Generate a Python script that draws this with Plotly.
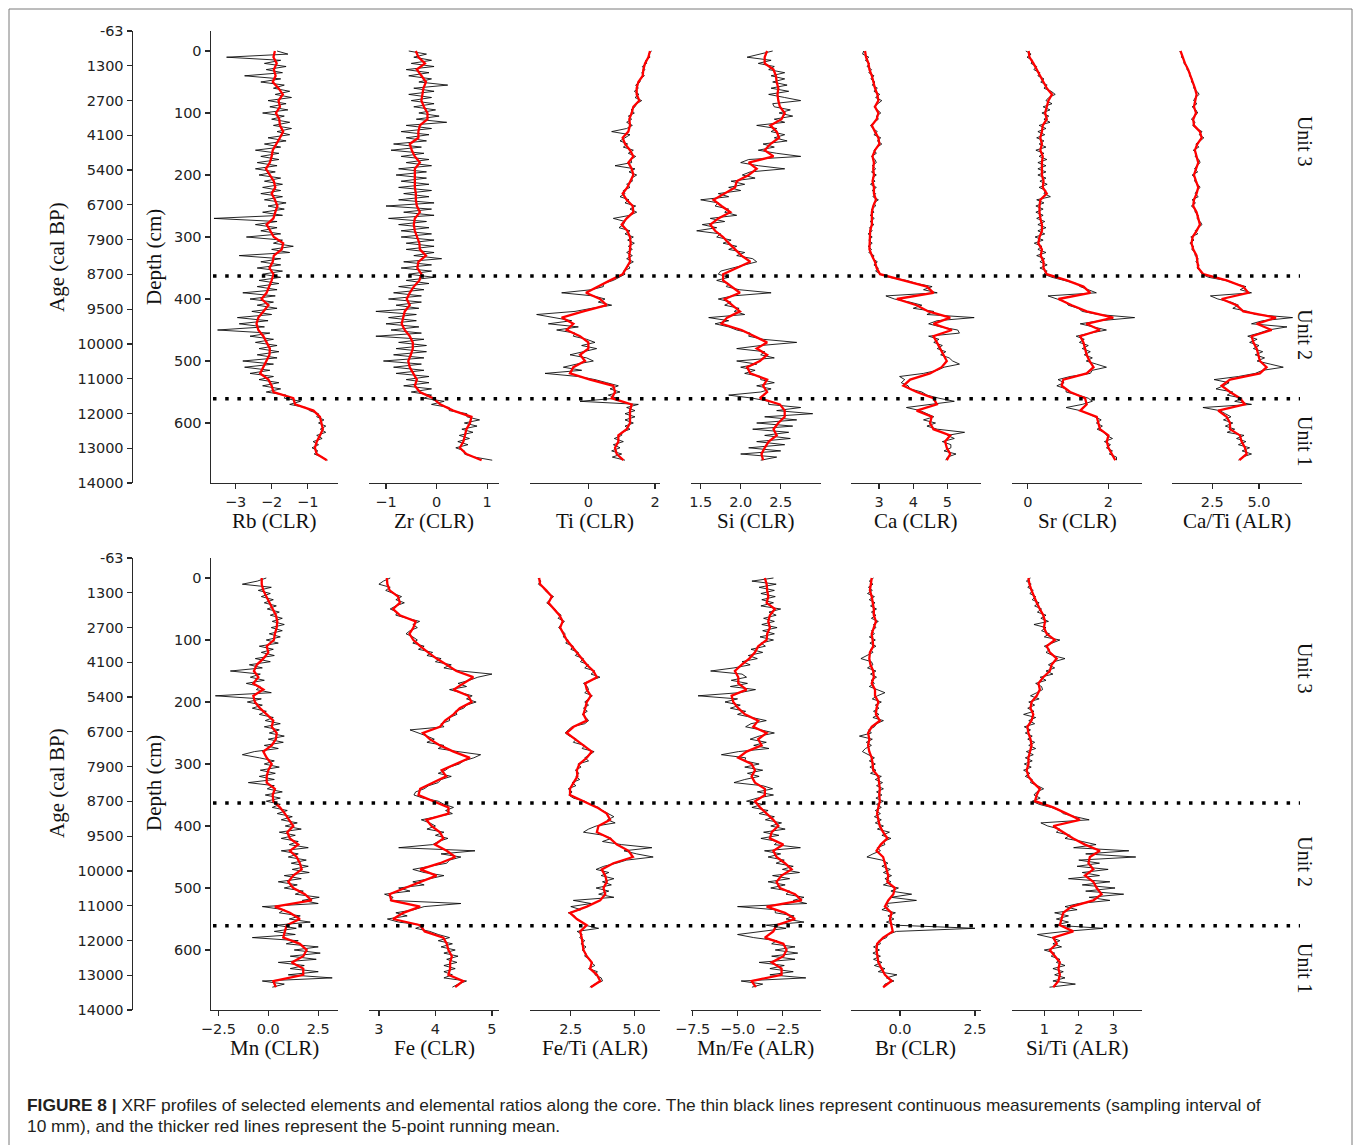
import plotly.graph_objects as go

W, H = 1355, 1145

# ------------------------------------------------------------------ data
DEPTH_RAW = list(range(0, 661, 5))    # cm (black, continuous measurements as read)
DEPTH_MEAN = list(range(0, 661, 10))  # cm (red, running mean as read)

RB_RAW = [
    -1.85, -1.55, -3.25, -1.75, -2.2, -1.6, -2.15, -1.7, -2.75, -1.75,
    -2.3, -1.65, -1.95, -1.5, -1.9, -1.45, -2.1, -1.6, -2.05, -1.55,
    -2.25, -1.65, -2.0, -1.5, -1.95, -1.45, -1.85, -1.5, -2.1, -1.6,
    -2.2, -1.75, -2.45, -1.8, -2.3, -1.8, -2.4, -1.85, -2.45, -1.9,
    -2.35, -1.75, -2.2, -1.7, -2.25, -1.75, -2.3, -1.7, -2.2, -1.6,
    -2.1, -1.65, -2.25, -1.7, -3.6, -1.85, -2.45, -1.85, -2.3, -1.75,
    -2.7, -1.7, -1.95, -1.4, -2.0, -1.5, -2.9, -1.75, -2.3, -1.75,
    -2.4, -1.7, -2.25, -1.75, -2.35, -1.8, -2.4, -1.85, -2.8, -1.9,
    -2.6, -1.95, -2.4, -1.85, -2.55, -2.0, -2.95, -2.1, -2.9, -2.2,
    -3.5, -2.05, -2.6, -1.95, -2.45, -1.85, -2.35, -1.8, -2.4, -1.85,
    -2.8, -1.95, -2.75, -2.05, -2.6, -1.95, -2.35, -1.8, -2.25, -1.75,
    -2.15, -1.6, -1.65, -1.2, -1.5, -1.05, -0.95, -0.7, -0.75, -0.55,
    -0.7, -0.5, -0.65, -0.5, -0.75, -0.6, -0.85, -0.7, -0.88, -0.72,
    -0.82, -0.6, -0.45]
RB_MEAN = [
    -1.91, -1.95, -1.86, -1.94, -1.89, -1.97, -1.81, -1.69, -1.81, -1.77,
    -1.88, -1.79, -1.77, -1.68, -1.77, -1.86, -1.97, -2.0, -2.05, -2.16,
    -2.06, -1.94, -1.90, -2.0, -1.91, -1.84, -1.90, -1.95, -2.14, -2.03,
    -1.94, -1.68, -1.72, -1.94, -1.97, -2.06, -1.95, -2.0, -2.06, -2.14,
    -2.28, -2.09, -2.23, -2.37, -2.42, -2.37, -2.23, -2.14, -2.05, -2.06,
    -2.14, -2.23, -2.32, -2.09, -2.0, -1.95, -1.40, -1.35, -0.84, -0.66,
    -0.61, -0.58, -0.66, -0.75, -0.80, -0.75, -0.47]

ZR_RAW = [
    -0.55, -0.2, -0.45, -0.1, -0.5, -0.05, -0.6, -0.15, -0.55, -0.1,
    -0.35, 0.22, -0.45, -0.05, -0.55, -0.1, -0.5, -0.05, -0.45, -0.02,
    -0.35, 0.05, -0.4, 0.2, -0.6, -0.1, -0.7, -0.15, -0.6, -0.2,
    -0.85, -0.3, -0.9, -0.25, -0.7, -0.15, -0.6, -0.1, -0.75, -0.2,
    -0.8, -0.2, -0.7, -0.15, -0.75, -0.1, -0.65, -0.15, -0.75, -0.05,
    -1.0, -0.1, -0.65, -0.05, -0.95, -0.2, -0.75, -0.15, -0.7, -0.1,
    -0.7, -0.05, -0.6, -0.05, -0.6, -0.05, -0.45, 0.1, -0.65, -0.1,
    -0.7, -0.1, -0.55, -0.05, -0.6, -0.15, -0.75, -0.25, -0.85, -0.3,
    -0.95, -0.3, -0.8, -0.35, -1.2, -0.4, -0.95, -0.4, -1.0, -0.35,
    -0.9, -0.3, -1.2, -0.25, -0.75, -0.2, -0.8, -0.2, -0.85, -0.25,
    -1.05, -0.3, -0.85, -0.25, -0.8, -0.15, -0.6, -0.15, -0.65, -0.1,
    -0.5, -0.1, -0.25, 0.15, -0.1, 0.25, 0.25, 0.6, 0.6, 0.85,
    0.55, 0.8, 0.5, 0.72, 0.45, 0.65, 0.42, 0.62, 0.38, 0.55,
    0.55, 0.75, 1.1]
ZR_MEAN = [
    -0.41, -0.36, -0.23, -0.39, -0.30, -0.21, -0.26, -0.28, -0.30, -0.25,
    -0.18, -0.18, -0.33, -0.36, -0.36, -0.53, -0.49, -0.43, -0.33, -0.43,
    -0.43, -0.43, -0.43, -0.41, -0.41, -0.39, -0.33, -0.43, -0.45, -0.43,
    -0.39, -0.34, -0.33, -0.21, -0.36, -0.38, -0.30, -0.34, -0.45, -0.53,
    -0.59, -0.53, -0.63, -0.66, -0.69, -0.63, -0.53, -0.47, -0.47, -0.51,
    -0.56, -0.53, -0.46, -0.39, -0.43, -0.33, -0.07, 0.07, 0.33, 0.69,
    0.66, 0.59, 0.56, 0.53, 0.46, 0.59, 0.89]

TI_RAW = [
    1.9, 1.8, 1.85, 1.72, 1.75, 1.62, 1.7, 1.6, 1.68, 1.55,
    1.55, 1.42, 1.5, 1.38, 1.52, 1.4, 1.6, 1.45, 1.4, 1.28,
    1.38, 1.2, 1.3, 1.15, 1.32, 1.15, 0.7, 1.25, 1.1, 0.95,
    1.18, 1.05, 1.35, 1.2, 1.42, 1.28, 1.3, 0.8, 1.4, 1.22,
    1.45, 1.3, 1.32, 1.15, 1.25, 1.05, 1.1, 0.95, 1.22, 1.1,
    1.42, 1.25, 1.45, 1.25, 0.75, 1.1, 1.05, 0.92, 1.25, 1.1,
    1.35, 1.18, 1.38, 1.2, 1.32, 1.15, 1.32, 1.15, 1.35, 1.18,
    1.25, 1.05, 1.1, 0.9, 0.75, 0.45, 0.45, 0.1, -0.8, 0.15,
    0.5, 0.3, 0.7, 0.1, -0.4, -1.55, -1.0, -0.5, -1.2, -0.3,
    -0.95, -0.4, -0.45, -0.05, 0.2, -0.2, 0.25, -0.15, -0.55, -0.05,
    0.15, -0.35, -0.75, -0.2, -1.3, -0.3, 0.2, 0.55, 0.9, 0.65,
    0.95, 0.6, 0.85, -0.25, 1.5, 1.15, 1.4, 1.1, 1.4, 1.1,
    1.35, 1.1, 1.25, 1.0, 1.0, 0.78, 1.05, 0.75, 0.95, 0.7,
    1.0, 0.72, 1.1]
TI_MEAN = [
    1.85, 1.80, 1.70, 1.65, 1.63, 1.50, 1.45, 1.45, 1.53, 1.35,
    1.30, 1.23, 1.25, 1.20, 1.03, 1.10, 1.25, 1.35, 1.20, 1.30,
    1.35, 1.25, 1.17, 1.03, 1.15, 1.33, 1.35, 1.15, 1.00, 1.17,
    1.25, 1.27, 1.25, 1.23, 1.25, 1.15, 1.03, 0.65, 0.30, -0.07,
    0.35, 0.55, -0.15, -0.80, -0.45, -0.65, -0.25, 0.0, 0.0, -0.25,
    -0.10, -0.45, -0.55, 0.05, 0.75, 0.80, 0.70, 1.30, 1.25, 1.25,
    1.25, 1.15, 0.90, 0.90, 0.80, 0.85, 1.05]

SI_RAW = [
    2.4, 2.25, 2.08, 2.38, 2.22, 2.42, 2.35, 2.55, 2.38, 2.55,
    2.4, 2.58, 2.38, 2.6, 2.35, 2.55, 2.75, 2.4, 2.42, 2.62,
    2.48, 2.65, 2.42, 2.55, 2.2, 2.45, 2.38, 2.55, 2.42, 2.58,
    2.28, 2.42, 2.22, 2.45, 2.75, 2.1, 2.0, 2.22, 2.55, 2.12,
    2.02, 2.18, 1.88, 2.05, 1.85, 2.0, 1.72, 1.85, 1.5, 1.72,
    1.68, 1.85, 1.8, 1.95, 1.62, 1.8, 1.52, 1.7, 1.45, 1.75,
    1.7, 1.88, 1.78, 1.95, 1.85, 2.05, 1.95, 2.15, 2.2, 2.05,
    1.88, 1.75, 1.72, 1.85, 1.7, 1.85, 1.82, 1.98, 2.38, 1.9,
    1.72, 1.88, 1.8, 1.98, 1.92, 2.05, 1.6, 1.85, 1.68, 1.85,
    1.95, 2.12, 2.1, 2.28, 2.7, 2.25, 1.95, 2.3, 2.25, 2.42,
    1.95, 2.2, 2.0, 2.18, 2.05, 2.25, 2.25, 2.42, 2.2, 2.38,
    2.25, 1.85, 2.15, 2.35, 2.35, 2.75, 2.45, 2.9, 2.3, 2.7,
    2.2, 2.65, 2.15, 2.6, 2.3, 2.62, 2.2, 2.55, 2.1, 2.5,
    2.0, 2.45, 2.25]
SI_MEAN = [
    2.33, 2.30, 2.30, 2.41, 2.44, 2.45, 2.47, 2.46, 2.47, 2.49,
    2.55, 2.51, 2.37, 2.45, 2.48, 2.37, 2.30, 2.41, 2.10, 2.20,
    2.10, 1.95, 1.93, 1.80, 1.66, 1.76, 1.87, 1.72, 1.62, 1.68,
    1.78, 1.85, 1.93, 2.01, 2.12, 1.95, 1.78, 1.78, 1.89, 1.99,
    1.80, 1.89, 1.99, 1.83, 1.76, 2.01, 2.16, 2.33, 2.20, 2.33,
    2.24, 2.08, 2.12, 2.33, 2.28, 2.33, 2.24, 2.49, 2.55, 2.55,
    2.47, 2.41, 2.45, 2.35, 2.30, 2.26, 2.28]

CA_RAW = [
    2.55, 2.52, 2.7, 2.6, 2.72, 2.65, 2.78, 2.7, 2.85, 2.76,
    2.88, 2.8, 2.95, 2.85, 3.02, 2.9, 3.08, 2.95, 2.85, 2.95,
    3.05, 2.92, 2.98, 2.85, 2.75, 2.82, 2.95, 2.85, 3.05, 2.95,
    3.08, 2.95, 2.85, 2.92, 2.78, 2.88, 2.92, 2.8, 2.9, 2.78,
    2.92, 2.8, 2.88, 2.75, 2.92, 2.8, 2.9, 2.82, 2.98, 2.85,
    2.9, 2.78, 2.85, 2.74, 2.86, 2.74, 2.85, 2.72, 2.8, 2.68,
    2.8, 2.7, 2.8, 2.68, 2.78, 2.7, 2.85, 2.82, 2.95, 2.85,
    2.98, 2.9, 3.05, 3.3, 3.8, 4.1, 4.55, 4.3, 4.7, 3.2,
    3.45, 3.9, 4.25, 4.0, 4.6, 4.4, 5.78, 4.7, 4.45, 4.8,
    5.3, 5.35, 4.45, 4.75, 4.6, 4.85, 4.7, 4.95, 4.8, 5.05,
    5.15, 5.35, 4.9, 4.7, 4.3, 3.6, 3.75, 3.65, 3.85, 3.9,
    4.25, 4.4, 4.75, 5.2, 4.5, 3.8, 4.2, 4.4, 4.6, 4.3,
    4.65, 4.4, 4.7, 5.5, 5.0, 5.2, 4.85, 5.1, 5.1, 4.9,
    5.25, 5.0, 4.95]
CA_MEAN = [
    2.59, 2.62, 2.69, 2.72, 2.79, 2.83, 2.88, 2.95, 2.98, 2.88,
    2.98, 2.93, 2.79, 2.88, 2.98, 3.01, 2.88, 2.81, 2.85, 2.83,
    2.85, 2.81, 2.85, 2.85, 2.91, 2.83, 2.79, 2.79, 2.79, 2.74,
    2.74, 2.74, 2.72, 2.79, 2.88, 2.93, 3.03, 3.71, 4.40, 4.59,
    3.52, 4.10, 4.44, 5.08, 4.59, 5.13, 4.59, 4.69, 4.79, 4.88,
    4.98, 4.83, 4.49, 3.91, 3.71, 4.10, 4.59, 4.69, 4.10, 4.54,
    4.49, 4.59, 5.08, 4.93, 4.98, 5.08, 4.98]

SR_RAW = [
    -0.05, 0.08, -0.02, 0.12, 0.08, 0.22, 0.15, 0.3, 0.25, 0.4,
    0.32, 0.48, 0.4, 0.58, 0.68, 0.52, 0.45, 0.6, 0.38, 0.55,
    0.35, 0.52, 0.4, 0.55, 0.28, 0.45, 0.25, 0.42, 0.22, 0.4,
    0.28, 0.45, 0.2, 0.4, 0.28, 0.47, 0.25, 0.45, 0.25, 0.45,
    0.25, 0.45, 0.3, 0.48, 0.28, 0.45, 0.4, 0.56, 0.22, 0.4,
    0.2, 0.38, 0.2, 0.38, 0.22, 0.42, 0.25, 0.45, 0.25, 0.42,
    0.18, 0.38, 0.16, 0.35, 0.25, 0.45, 0.22, 0.42, 0.3, 0.48,
    0.3, 0.48, 0.4, 0.6, 0.9, 1.2, 1.3, 1.5, 1.7, 0.5,
    0.7, 0.95, 1.0, 1.25, 1.35, 1.75, 2.65, 1.8, 1.3, 1.65,
    1.95, 1.55, 1.2, 1.4, 1.28, 1.5, 1.35, 1.55, 1.4, 1.6,
    1.45, 1.7, 1.95, 1.6, 1.55, 1.05, 0.75, 0.9, 0.72, 0.95,
    0.95, 1.25, 1.5, 1.6, 1.35, 0.95, 1.3, 1.5, 1.65, 1.82,
    1.7, 1.85, 1.72, 1.9, 1.95, 2.1, 1.9, 2.05, 1.95, 2.1,
    2.02, 2.2, 2.2]
SR_MEAN = [
    0.02, 0.04, 0.14, 0.22, 0.31, 0.39, 0.47, 0.60, 0.51, 0.47,
    0.43, 0.47, 0.37, 0.35, 0.31, 0.35, 0.31, 0.37, 0.35, 0.35,
    0.35, 0.39, 0.37, 0.47, 0.31, 0.29, 0.29, 0.31, 0.35, 0.35,
    0.29, 0.26, 0.35, 0.32, 0.39, 0.39, 0.47, 0.97, 1.38, 1.55,
    0.76, 1.09, 1.46, 2.12, 1.45, 1.79, 1.30, 1.38, 1.42, 1.46,
    1.53, 1.63, 1.46, 0.88, 0.84, 1.05, 1.42, 1.46, 1.30, 1.71,
    1.75, 1.79, 2.00, 1.96, 2.00, 2.08, 2.17]

CATI_RAW = [
    0.75, 0.88, 0.85, 1.0, 0.98, 1.15, 1.15, 1.3, 1.28, 1.42,
    1.38, 1.55, 1.5, 1.68, 1.8, 1.6, 1.5, 1.68, 1.42, 1.62,
    1.72, 1.55, 1.38, 1.58, 1.45, 1.65, 1.95, 1.8, 2.05, 1.85,
    1.62, 1.78, 1.48, 1.65, 1.58, 1.78, 1.85, 1.68, 1.55, 1.72,
    1.42, 1.6, 1.55, 1.72, 1.85, 1.68, 1.58, 1.75, 1.42, 1.6,
    1.38, 1.58, 1.58, 1.75, 1.68, 1.85, 1.95, 1.75, 1.58, 1.72,
    1.35, 1.52, 1.3, 1.5, 1.4, 1.58, 1.58, 1.75, 1.62, 1.8,
    1.68, 1.85, 1.95, 2.3, 3.2, 3.7, 4.3, 4.0, 4.6, 2.4,
    2.8, 3.5, 3.9, 3.6, 4.4, 4.8, 6.8, 5.2, 4.6, 6.5,
    5.5, 5.0, 4.4, 4.9, 4.5, 5.0, 4.7, 5.2, 4.8, 5.3,
    4.9, 5.6, 6.3, 5.2, 4.8, 3.9, 2.6, 3.4, 3.1, 2.7,
    3.6, 3.3, 4.1, 3.7, 4.6, 2.0, 2.9, 3.2, 3.5, 3.1,
    3.6, 3.2, 3.7, 3.3, 4.2, 3.8, 4.3, 3.9, 4.5, 4.1,
    4.6, 4.1, 3.9]
CATI_MEAN = [
    0.80, 0.91, 1.04, 1.21, 1.34, 1.45, 1.57, 1.66, 1.57, 1.52,
    1.63, 1.48, 1.52, 1.84, 1.93, 1.70, 1.57, 1.66, 1.75, 1.63,
    1.52, 1.63, 1.75, 1.66, 1.52, 1.48, 1.66, 1.75, 1.84, 1.66,
    1.45, 1.39, 1.48, 1.66, 1.70, 1.75, 2.02, 3.27, 4.16, 4.43,
    3.00, 3.80, 4.16, 5.91, 4.88, 5.68, 4.61, 4.70, 4.88, 4.96,
    5.05, 5.41, 5.05, 3.45, 3.00, 3.45, 3.98, 4.25, 2.82, 3.27,
    3.45, 3.45, 3.98, 4.07, 4.25, 4.34, 3.95]

MN_RAW = [
    -0.1, -0.55, -1.3, 0.15, -0.5, 0.1, -0.35, 0.25, -0.2, 0.4,
    -0.05, 0.55, 0.1, 0.7, 0.2, 0.8, 0.15, 0.7, 0.05, 0.6,
    -0.1, 0.5, -0.45, 0.25, -0.35, 0.3, -0.65, 0.1, -0.95, -0.3,
    -1.9, -0.4, -0.9, -0.2, -1.1, -0.4, -0.6, 0.15, -2.65, -0.35,
    -1.05, -0.3, -0.8, -0.1, -0.45, 0.25, -0.15, 0.6, -0.2, 0.55,
    0.05, 0.8, 0.0, 0.75, -0.2, 0.5, -0.7, -1.3, -0.45, 0.3,
    -0.2, 0.55, -0.4, 0.35, -0.45, 0.3, -1.0, 0.3, -0.05, 0.7,
    -0.15, 0.6, -0.1, 0.6, 0.2, 0.95, 0.45, 1.2, 0.65, 1.45,
    0.85, 1.65, 0.55, 1.35, 0.65, 1.5, 1.05, 2.0, 0.65, 1.5,
    1.0, 1.9, 1.15, 2.0, 1.2, 2.05, 0.8, 1.65, 0.5, 1.45,
    0.8, 1.75, 1.35, 2.55, 1.7, 2.5, -0.3, 0.8, 0.55, 1.6,
    1.05, 2.1, 0.4, 1.4, 0.3, 1.35, -0.8, 1.5, 0.9, 2.5,
    1.3, 2.6, 1.1, 2.4, 0.5, 1.8, 1.1, 2.5, 1.0, 3.2,
    -0.3, 0.8, 0.2]
MN_MEAN = [
    -0.33, -0.33, -0.25, -0.08, 0.08, 0.22, 0.38, 0.45, 0.42, 0.33,
    0.28, -0.08, 0.0, -0.25, -0.58, -0.72, -0.5, -0.75, -0.25, -0.75,
    -0.67, -0.42, -0.08, 0.25, 0.17, 0.42, 0.38, 0.17, -0.25, -0.08,
    0.17, 0.0, -0.08, -0.08, 0.33, 0.22, 0.25, 0.58, 0.83, 1.05,
    1.25, 0.95, 1.08, 1.50, 1.08, 1.42, 1.58, 1.67, 1.25, 1.0,
    1.25, 1.83, 2.17, 0.33, 1.08, 1.58, 0.92, 0.83, 0.75, 1.58,
    1.92, 1.75, 1.17, 1.75, 1.75, 0.25, 0.38]

FE_RAW = [
    3.2, 3.08, 3.0, 3.2, 3.12, 3.28, 3.4, 3.3, 3.45, 3.3,
    3.2, 3.32, 3.3, 3.5, 3.72, 3.6, 3.68, 3.55, 3.48, 3.6,
    3.68, 3.6, 3.8, 3.7, 3.95, 3.85, 4.1, 4.0, 4.28, 4.15,
    4.45, 5.0, 4.75, 4.6, 4.4, 4.55, 4.25, 4.45, 4.65, 4.55,
    4.72, 4.55, 4.5, 4.35, 4.38, 4.25, 4.25, 4.1, 4.15, 3.55,
    3.72, 3.85, 3.98, 3.85, 4.15, 4.05, 4.4, 4.8, 4.68, 4.5,
    4.42, 4.25, 4.18, 4.05, 4.28, 4.1, 4.05, 3.88, 3.8, 3.65,
    3.62, 3.78, 4.05, 4.15, 4.32, 4.18, 4.3, 4.05, 3.75, 3.9,
    4.0, 3.85, 4.15, 4.0, 4.22, 4.05, 3.95, 3.35, 4.7, 4.1,
    4.45, 4.25, 4.2, 3.9, 3.6, 3.8, 4.15, 3.9, 3.6, 3.8,
    3.35, 3.55, 3.1, 3.25, 3.2, 4.45, 3.8, 3.62, 3.3, 3.5,
    3.15, 3.35, 3.8, 3.65, 3.9, 4.05, 4.25, 4.05, 4.3, 4.1,
    4.35, 4.15, 4.4, 4.2, 4.38, 4.15, 4.35, 4.15, 4.3, 4.15,
    4.55, 4.4, 4.3]
FE_MEAN = [
    3.14, 3.15, 3.19, 3.34, 3.37, 3.25, 3.37, 3.65, 3.61, 3.54,
    3.61, 3.73, 3.87, 4.02, 4.20, 4.37, 4.67, 4.49, 4.32, 4.58,
    4.64, 4.43, 4.32, 4.17, 4.08, 3.78, 3.90, 4.08, 4.32, 4.61,
    4.37, 4.11, 4.19, 3.96, 3.73, 3.70, 3.96, 4.23, 4.23, 3.84,
    3.93, 4.08, 4.14, 3.99, 4.20, 4.35, 4.08, 3.73, 4.02, 3.73,
    3.46, 3.19, 3.22, 3.73, 3.43, 3.25, 3.73, 3.81, 4.14, 4.20,
    4.23, 4.29, 4.26, 4.26, 4.23, 4.49, 4.35]

FETI_RAW = [
    1.2, 1.32, 1.22, 1.4, 1.48, 1.62, 1.82, 1.7, 1.55, 1.7,
    1.88, 1.95, 2.12, 2.0, 2.25, 2.12, 2.02, 2.15, 2.28, 2.2,
    2.4, 2.3, 2.6, 2.5, 2.8, 2.68, 3.0, 2.88, 3.2, 3.05,
    3.45, 3.3, 3.65, 3.3, 3.0, 3.15, 3.2, 3.05, 3.35, 3.2,
    3.05, 3.2, 3.0, 3.15, 2.95, 3.1, 3.2, 3.05, 2.55, 2.4,
    2.28, 2.45, 2.72, 2.6, 3.05, 2.95, 3.42, 3.25, 3.05, 3.2,
    2.78, 2.9, 2.68, 2.82, 2.7, 2.85, 2.55, 2.7, 2.4, 2.55,
    2.42, 2.6, 3.05, 3.25, 3.6, 3.75, 4.0, 4.2, 3.95, 4.25,
    3.5, 3.2, 3.0, 3.8, 4.1, 3.75, 4.5, 5.7, 4.6, 5.1,
    5.75, 4.7, 4.3, 3.8, 3.5, 4.0, 3.7, 4.2, 3.75, 4.1,
    3.5, 4.0, 3.6, 4.2, 2.6, 3.3, 2.5, 2.9, 2.4, 2.65,
    2.7, 2.95, 3.05, 3.6, 2.75, 2.95, 2.85, 3.05, 2.9, 3.1,
    2.95, 3.1, 3.05, 3.25, 3.3, 3.45, 3.2, 3.55, 3.45, 3.7,
    3.75, 3.45, 3.25]
FETI_MEAN = [
    1.25, 1.29, 1.53, 1.75, 1.62, 1.82, 2.05, 2.18, 2.08, 2.21,
    2.34, 2.54, 2.74, 2.93, 3.13, 3.39, 3.53, 3.07, 3.13, 3.29,
    3.13, 3.07, 3.00, 3.13, 2.61, 2.34, 2.67, 3.00, 3.33, 3.13,
    2.84, 2.74, 2.76, 2.61, 2.47, 2.47, 3.00, 3.53, 3.92, 4.05,
    3.59, 3.53, 4.05, 4.32, 4.78, 4.95, 4.18, 3.72, 3.86, 3.92,
    3.79, 3.86, 3.66, 3.13, 2.47, 2.74, 3.13, 2.87, 2.93, 2.97,
    3.00, 3.13, 3.33, 3.26, 3.53, 3.66, 3.29]

MNFE_RAW = [
    -3.0, -4.2, -2.85, -3.8, -2.95, -3.7, -2.9, -3.65, -3.0, -3.7,
    -2.6, -3.25, -2.85, -3.55, -2.95, -3.65, -2.8, -3.6, -2.95, -3.75,
    -3.0, -3.7, -3.45, -4.25, -3.6, -4.4, -3.9, -4.75, -4.3, -5.2,
    -6.5, -4.75, -4.5, -5.35, -4.45, -5.4, -4.0, -4.9, -7.2, -5.0,
    -5.7, -4.85, -5.4, -4.55, -5.0, -4.15, -3.4, -4.25, -4.55, -3.7,
    -2.95, -3.8, -4.3, -3.4, -4.1, -3.25, -4.95, -5.9, -4.55, -4.6,
    -3.8, -4.6, -3.6, -4.45, -3.8, -4.6, -5.2, -3.6, -3.05, -3.9,
    -3.0, -3.9, -4.5, -3.6, -4.2, -3.3, -3.8, -2.95, -3.45, -2.55,
    -3.15, -2.35, -3.55, -2.7, -3.7, -2.75, -2.95, -1.5, -3.5, -2.6,
    -3.3, -2.4, -2.85, -1.9, -2.5, -1.55, -3.05, -2.1, -3.3, -2.35,
    -3.15, -2.1, -2.3, -1.3, -1.9, -1.15, -5.0, -2.9, -2.9, -1.85,
    -2.3, -1.3, -3.4, -2.3, -3.6, -5.0, -4.1, -2.8, -3.1, -1.8,
    -2.9, -1.65, -3.1, -1.8, -3.8, -2.4, -3.2, -1.9, -3.2, -1.2,
    -4.8, -3.6, -4.2]
MNFE_MEAN = [
    -3.48, -3.38, -3.35, -3.29, -3.38, -2.92, -3.20, -3.29, -3.20, -3.35,
    -3.38, -3.85, -4.03, -4.35, -4.78, -5.15, -4.96, -4.96, -4.50, -5.33,
    -5.24, -4.96, -4.59, -3.85, -4.13, -3.38, -3.85, -3.66, -4.50, -4.96,
    -4.22, -4.03, -4.22, -4.03, -3.48, -3.48, -4.03, -3.75, -3.38, -3.01,
    -2.73, -3.10, -3.20, -2.45, -3.01, -2.83, -2.36, -1.99, -2.55, -2.83,
    -2.64, -1.80, -1.43, -3.38, -2.36, -1.80, -2.83, -3.01, -3.48, -2.45,
    -2.27, -2.45, -3.10, -2.55, -2.55, -4.22, -3.98]

BR_RAW = [
    -0.88, -1.02, -0.9, -1.05, -0.92, -1.08, -0.85, -1.02, -0.83, -0.98,
    -0.78, -0.95, -0.8, -0.95, -0.72, -0.88, -0.8, -0.95, -0.85, -1.02,
    -0.82, -1.0, -0.8, -0.98, -0.9, -1.1, -1.3, -0.95, -0.9, -1.08,
    -0.8, -0.98, -0.78, -0.96, -0.85, -1.02, -0.75, -0.5, -0.75, -0.92,
    -0.62, -0.82, -0.7, -0.88, -0.7, -0.9, -0.55, -0.78, -0.85, -1.05,
    -0.95, -1.35, -0.92, -1.12, -0.95, -1.15, -1.25, -1.05, -0.85, -1.02,
    -0.82, -1.0, -0.8, -0.98, -0.62, -0.82, -0.58, -0.78, -0.55, -0.78,
    -0.6, -0.8, -0.55, -0.78, -0.62, -0.82, -0.65, -0.85, -0.62, -0.82,
    -0.55, -0.75, -0.35, -0.6, -0.3, -0.55, -0.5, -0.75, -0.65, -0.9,
    -1.1, -0.6, -0.4, -0.6, -0.32, -0.55, -0.28, -0.5, -0.3, -0.55,
    -0.05, -0.3, 0.39, -0.3, 0.55, -0.45, -0.38, -0.6, -0.15, -0.4,
    -0.2, -0.45, -0.15, 2.5, -0.12, -0.4, -0.45, -0.7, -0.65, -0.88,
    -0.68, -0.9, -0.65, -0.88, -0.6, -0.85, -0.5, -0.72, -0.1, -0.45,
    -0.2, -0.5, -0.55]
BR_MEAN = [
    -0.94, -0.97, -1.0, -0.94, -0.91, -0.87, -0.87, -0.80, -0.87, -0.94,
    -0.91, -0.89, -1.0, -1.02, -0.98, -0.89, -0.87, -0.94, -0.83, -0.83,
    -0.72, -0.78, -0.80, -0.67, -0.94, -1.06, -1.02, -1.06, -1.02, -0.94,
    -0.91, -0.89, -0.72, -0.69, -0.67, -0.69, -0.67, -0.72, -0.76, -0.72,
    -0.67, -0.56, -0.42, -0.64, -0.78, -0.56, -0.50, -0.44, -0.39, -0.42,
    -0.17, -0.22, -0.39, -0.50, -0.28, -0.33, -0.28, -0.24, -0.56, -0.76,
    -0.78, -0.76, -0.72, -0.61, -0.50, -0.28, -0.56]

SITI_RAW = [
    0.6, 0.48, 0.62, 0.52, 0.68, 0.58, 0.75, 0.65, 0.85, 0.72,
    0.92, 0.8, 1.05, 0.9, 1.12, 0.7, 1.05, 0.92, 1.15, 1.0,
    1.45, 1.2, 1.0, 1.15, 1.05, 1.25, 1.6, 1.28, 1.12, 1.3,
    1.05, 1.25, 0.88, 1.05, 0.75, 0.92, 0.95, 0.78, 0.6, 0.85,
    0.55, 0.72, 0.52, 0.7, 0.4, 0.75, 0.55, 0.72, 0.42, 0.6,
    0.45, 0.65, 0.52, 0.72, 0.55, 0.75, 0.48, 0.68, 0.45, 0.65,
    0.42, 0.62, 0.4, 0.58, 0.45, 0.65, 0.6, 0.8, 0.98, 0.78,
    0.7, 0.88, 0.65, 0.85, 1.2, 1.45, 1.55, 1.9, 2.3, 0.9,
    1.1, 1.45, 1.35, 1.75, 1.6, 2.1, 2.5, 1.85, 3.45, 2.2,
    3.65, 2.0, 2.6, 1.95, 2.85, 2.1, 2.6, 1.7, 2.9, 2.1,
    3.05, 2.2, 3.3, 2.3, 2.9, 2.0, 1.6, 1.95, 1.3, 1.7,
    1.35, 1.7, 1.3, 2.7, 1.6, 0.8, 1.2, 1.45, 1.25, 1.5,
    1.0, 1.3, 1.2, 1.45, 1.35, 1.6, 1.25, 1.55, 1.3, 1.6,
    1.25, 1.9, 1.15]
SITI_MEAN = [
    0.54, 0.57, 0.63, 0.70, 0.78, 0.87, 0.97, 1.02, 0.99, 1.07,
    1.31, 1.07, 1.16, 1.36, 1.21, 1.16, 0.97, 0.83, 0.87, 0.78,
    0.63, 0.60, 0.68, 0.63, 0.51, 0.54, 0.60, 0.63, 0.58, 0.54,
    0.54, 0.49, 0.54, 0.68, 0.87, 0.78, 0.73, 1.26, 1.65, 2.03,
    1.26, 1.55, 1.84, 2.18, 2.61, 2.32, 2.28, 2.42, 2.18, 2.42,
    2.52, 2.66, 2.42, 1.79, 1.55, 1.50, 1.45, 1.84, 1.26, 1.36,
    1.16, 1.31, 1.45, 1.41, 1.45, 1.41, 1.26]

AGE_LABELS = ["-63", "1300", "2700", "4100", "5400", "6700", "7900", "8700",
              "9500", "10000", "11000", "12000", "13000", "14000"]
DEPTH_TICKS = [0, 100, 200, 300, 400, 500, 600]
UNIT_NAMES = ["Unit 3", "Unit 2", "Unit 1"]
UNIT_LABEL_DEPTHS = [145, 457, 629]
UNIT_BOUNDARIES = [363, 561]

TOP_TITLES = ["Rb (CLR)", "Zr (CLR)", "Ti (CLR)", "Si (CLR)", "Ca (CLR)", "Sr (CLR)", "Ca/Ti (ALR)"]
TOP_RAW = [RB_RAW, ZR_RAW, TI_RAW, SI_RAW, CA_RAW, SR_RAW, CATI_RAW]
TOP_MEAN = [RB_MEAN, ZR_MEAN, TI_MEAN, SI_MEAN, CA_MEAN, SR_MEAN, CATI_MEAN]
TOP_TICKS = [[-3, -2, -1], [-1, 0, 1], [0, 2], [1.5, 2.0, 2.5], [3, 4, 5], [0, 2], [2.5, 5.0]]

BOTTOM_TITLES = ["Mn (CLR)", "Fe (CLR)", "Fe/Ti (ALR)", "Mn/Fe (ALR)", "Br (CLR)", "Si/Ti (ALR)"]
BOTTOM_RAW = [MN_RAW, FE_RAW, FETI_RAW, MNFE_RAW, BR_RAW, SITI_RAW]
BOTTOM_MEAN = [MN_MEAN, FE_MEAN, FETI_MEAN, MNFE_MEAN, BR_MEAN, SITI_MEAN]
BOTTOM_TICKS = [[-2.5, 0.0, 2.5], [3, 4, 5], [2.5, 5.0], [-7.5, -5.0, -2.5], [0.0, 2.5], [1, 2, 3]]

CAPTION_1_BOLD = "FIGURE 8 |"
CAPTION_1 = (" XRF profiles of selected elements and elemental ratios along the core. "
             "The thin black lines represent continuous measurements (sampling interval of")
CAPTION_2 = "10 mm), and the thicker red lines represent the 5-point running mean."

# ------------------------------------------------------------------ layout / style (page pixels)
TOP_RANGES = [[-3.71, -0.16], [-1.33, 1.24], [-1.75, 2.15], [1.375, 3.0],
              [2.18, 5.98], [-0.40, 2.84], [0.36, 7.32]]
TOP_FMT = ["d", "d", "d", ".1f", "d", "d", ".1f"]
BOTTOM_RANGES = [[-2.92, 3.49], [2.83, 5.13], [0.89, 6.02], [-7.61, -0.37],
                 [-1.63, 2.70], [0.055, 3.84]]
BOTTOM_FMT = [".1f", "d", ".1f", ".1f", ".1f", "d"]
PANEL_X = [(210, 338), (369.3, 499.3), (530, 660), (690.7, 820.7),
           (851, 981), (1011.7, 1142.3), (1172.3, 1302.3)]
ROWS = [dict(top=31, bottom=483, zero=51, title_y=521, mid=257),
        dict(top=558, bottom=1010, zero=578, title_y=1048, mid=783)]
PX_PER_CM = 0.62
DEPTH_AXIS_X = 209.5
AGE_AXIS_X = 131.5
UNIT_X = 1305
DOT_X = (213, 1300)

SERIF = "Liberation Serif, Times New Roman, serif"
SANS = "DejaVu Sans, Verdana, sans-serif"
CAPTION_FONT = "Liberation Sans, Arial, sans-serif"
AXIS_COLOR = "#2a2a2a"
TICK_FONT = dict(family=SANS, size=14.5, color="#222222")


def px(x):
    """page x pixel -> paper fraction"""
    return x / W


def py(y):
    """page y pixel -> paper fraction"""
    return 1 - y / H


fig = go.Figure()
layout = dict(
    template="none",
    width=W, height=H, autosize=False, margin=dict(l=0, r=0, t=0, b=0, pad=0),
    paper_bgcolor="white", plot_bgcolor="rgba(0,0,0,0)",
    showlegend=False, annotations=[], shapes=[],
)

rows_data = [
    (TOP_TITLES, TOP_RAW, TOP_MEAN, TOP_TICKS, TOP_RANGES, TOP_FMT),
    (BOTTOM_TITLES, BOTTOM_RAW, BOTTOM_MEAN, BOTTOM_TICKS, BOTTOM_RANGES, BOTTOM_FMT),
]

k = 0
for r, (titles, raws, means, ticks, ranges, fmts) in enumerate(rows_data):
    geo = ROWS[r]
    dom = [py(geo["bottom"]), py(geo["top"])]
    depth_range = [(geo["bottom"] - geo["zero"]) / PX_PER_CM, (geo["top"] - geo["zero"]) / PX_PER_CM]
    dname = "yaxis" if r == 0 else "yaxis3"
    did = "y" if r == 0 else "y3"
    aname = "yaxis2" if r == 0 else "yaxis4"
    aid = "y2" if r == 0 else "y4"

    layout[dname] = dict(
        domain=dom, range=depth_range, anchor="free", position=px(DEPTH_AXIS_X),
        tickmode="array", tickvals=DEPTH_TICKS, ticks="outside", ticklen=5, tickwidth=1.2,
        tickcolor=AXIS_COLOR, showline=True, linecolor=AXIS_COLOR, linewidth=1.3,
        showgrid=False, zeroline=False, tickfont=TICK_FONT, fixedrange=True, automargin=False,
    )
    layout[aname] = dict(
        domain=dom, range=[len(AGE_LABELS) - 1, 0], overlaying=did, anchor="free",
        position=px(AGE_AXIS_X), side="left",
        tickmode="array", tickvals=list(range(len(AGE_LABELS))), ticktext=AGE_LABELS,
        ticks="outside", ticklen=5, tickwidth=1.2, tickcolor=AXIS_COLOR,
        showline=True, linecolor=AXIS_COLOR, linewidth=1.3,
        showgrid=False, zeroline=False, tickfont=TICK_FONT, fixedrange=True, automargin=False,
    )

    for i, title in enumerate(titles):
        k += 1
        xname = "xaxis" if k == 1 else f"xaxis{k}"
        xid = "x" if k == 1 else f"x{k}"
        x0, x1 = PANEL_X[i]
        layout[xname] = dict(
            domain=[px(x0), px(x1)], range=ranges[i], anchor=did,
            tickmode="array", tickvals=ticks[i], tickformat=fmts[i],
            ticks="outside", ticklen=5, tickwidth=1.2, tickcolor=AXIS_COLOR,
            showline=True, linecolor=AXIS_COLOR, linewidth=1.3,
            showgrid=False, zeroline=False, tickfont=TICK_FONT, fixedrange=True, automargin=False,
        )
        fig.add_trace(go.Scatter(
            x=raws[i], y=DEPTH_RAW, xaxis=xid, yaxis=did, mode="lines",
            line=dict(color="black", width=0.85), hoverinfo="skip"))
        fig.add_trace(go.Scatter(
            x=means[i], y=DEPTH_MEAN, xaxis=xid, yaxis=did, mode="lines",
            line=dict(color="#ff0000", width=2.3), hoverinfo="skip"))
        layout["annotations"].append(dict(
            text=title, xref="paper", yref="paper", x=px((x0 + x1) / 2), y=py(geo["title_y"]),
            xanchor="center", yanchor="middle", showarrow=False,
            font=dict(family=SERIF, size=21, color="#111111")))

    # invisible trace so the age axis is registered
    fig.add_trace(go.Scatter(x=[None], y=[None], xaxis="x", yaxis=aid, mode="lines",
                             hoverinfo="skip", showlegend=False))

    # axis titles
    layout["annotations"].append(dict(
        text="Age (cal BP)", xref="paper", yref="paper", x=px(57), y=py(geo["mid"]),
        xanchor="center", yanchor="middle", textangle=-90, showarrow=False,
        font=dict(family=SERIF, size=21, color="#111111")))
    layout["annotations"].append(dict(
        text="Depth (cm)", xref="paper", yref="paper", x=px(154), y=py(geo["mid"]),
        xanchor="center", yanchor="middle", textangle=-90, showarrow=False,
        font=dict(family=SERIF, size=21, color="#111111")))

    # unit labels
    for name, dep in zip(UNIT_NAMES, UNIT_LABEL_DEPTHS):
        layout["annotations"].append(dict(
            text=name, xref="paper", yref=did, x=px(UNIT_X), y=dep,
            xanchor="center", yanchor="middle", textangle=90, showarrow=False,
            font=dict(family=SERIF, size=20, color="#111111")))

    # unit boundaries (dotted)
    for b in UNIT_BOUNDARIES:
        layout["shapes"].append(dict(
            type="line", xref="paper", yref=did, x0=px(DOT_X[0]), x1=px(DOT_X[1]), y0=b, y1=b,
            line=dict(color="black", width=3.5, dash="3.5px,8.7px"), layer="above"))

# frame around the figure (top, left, right)
frame = dict(color="#7a7a7a", width=1)
layout["shapes"] += [
    dict(type="line", xref="paper", yref="paper", x0=px(9), x1=px(1352), y0=py(9), y1=py(9), line=frame),
    dict(type="line", xref="paper", yref="paper", x0=px(9), x1=px(9), y0=py(9), y1=0, line=frame),
    dict(type="line", xref="paper", yref="paper", x0=px(1352), x1=px(1352), y0=py(9), y1=0, line=frame),
]

# caption
layout["annotations"].append(dict(
    text=f"<b>{CAPTION_1_BOLD}</b>{CAPTION_1}", xref="paper", yref="paper",
    x=px(25), y=py(1105), xanchor="left", yanchor="middle", showarrow=False, align="left",
    font=dict(family=CAPTION_FONT, size=17.35, color="#231f20")))
layout["annotations"].append(dict(
    text=CAPTION_2, xref="paper", yref="paper",
    x=px(25), y=py(1126), xanchor="left", yanchor="middle", showarrow=False, align="left",
    font=dict(family=CAPTION_FONT, size=17.35, color="#231f20")))

fig.update_layout(**layout)

fig.write_html(
    "out.html",
    config={"displayModeBar": False, "staticPlot": True},
    post_script="document.body.style.margin='0';document.body.style.overflow='hidden';",
)
